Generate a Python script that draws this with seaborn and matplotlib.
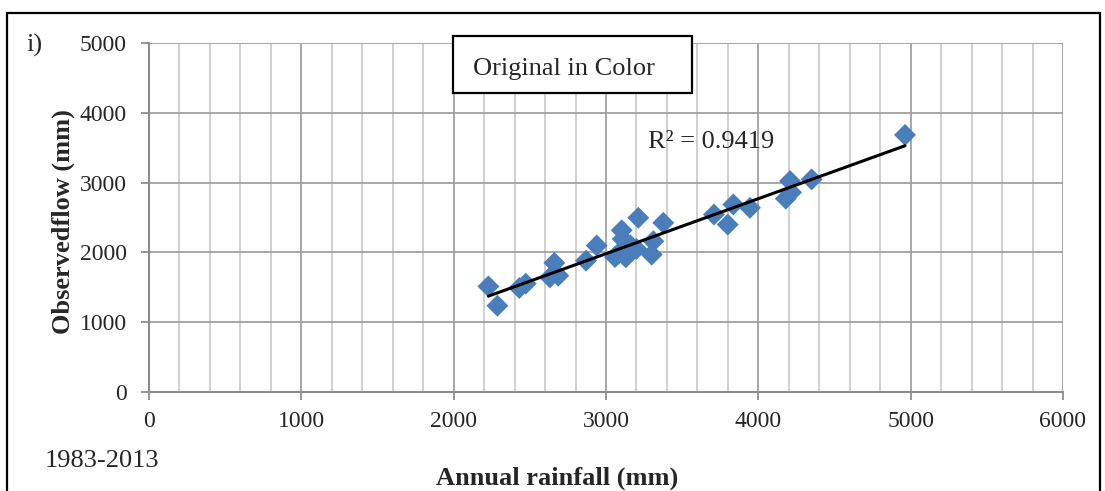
import numpy as np
import pandas as pd
import matplotlib
matplotlib.use("Agg")
import matplotlib.pyplot as plt
from matplotlib.patches import Rectangle
from matplotlib.ticker import MultipleLocator
import seaborn as sns

# Data
rainfall = [2228, 2287, 2431, 2473, 2632, 2661, 2687, 2869, 2939, 3059,
            3103, 3080, 3130, 3110, 3160, 3200, 3212, 3300, 3311, 3376,
            3709, 3799, 3836, 3945, 4180, 4215, 4208, 4350, 4963]
flow = [1513, 1236, 1490, 1552, 1642, 1849, 1667, 1882, 2098, 1934,
        2317, 1980, 1930, 2190, 2100, 2050, 2496, 1968, 2160, 2424,
        2543, 2399, 2687, 2639, 2770, 2860, 3022, 3046, 3683]
r2_label = "R² = 0.9419"
x_ticks = [0, 1000, 2000, 3000, 4000, 5000, 6000]
y_ticks = [0, 1000, 2000, 3000, 4000, 5000]

df = pd.DataFrame({"rain": rainfall, "flow": flow})

sns.set_style("white")
plt.rcParams['font.family'] = ['Liberation Serif', 'DejaVu Serif']

W, H = 1105, 491
fig = plt.figure(figsize=(W / 100, H / 100), dpi=100)
ax = fig.add_axes([149 / W, 1 - 392 / H, (1063 - 149) / W, (392 - 43) / H])

ax.set_xlim(0, 6000)
ax.set_ylim(0, 5000)
ax.set_xticks(x_ticks)
ax.set_yticks(y_ticks)
ax.xaxis.set_minor_locator(MultipleLocator(200))
ax.grid(which="minor", axis="x", color="#c4c4c4", linewidth=1.1)
ax.grid(which="major", axis="both", color="#a0a0a0", linewidth=1.3)
ax.set_axisbelow(True)

sns.regplot(data=df, x="rain", y="flow", scatter=False, ci=None, ax=ax,
            line_kws=dict(color="black", linewidth=2.2, zorder=4))
sns.scatterplot(data=df, x="rain", y="flow", marker="D", s=125,
                color="#4a7ebb", edgecolor="none", ax=ax, zorder=3)

for s in ["top", "right"]:
    ax.spines[s].set_visible(False)
for s in ["left", "bottom"]:
    ax.spines[s].set_color("#8c8c8c")
    ax.spines[s].set_linewidth(1.5)
ax.tick_params(axis="both", which="major", length=6, width=1.3, color="#8c8c8c",
               labelsize=17, direction="out", left=True, bottom=True)
ax.tick_params(axis="x", pad=8)
ax.tick_params(axis="y", pad=10)
ax.tick_params(which="minor", length=0)
ax.set_xlabel("")
ax.set_ylabel("")

# Labels
fig.text(557 / W, 1 - 485 / H, "Annual rainfall (mm)", ha="center", va="baseline",
         fontsize=19, fontweight="bold")
fig.text(63 / W, 1 - 222 / H, "Observedflow (mm)", ha="center", va="center",
         rotation=90, fontsize=19, fontweight="bold")
fig.text(45 / W, 1 - 467 / H, "1983-2013", ha="left", va="baseline", fontsize=19)
fig.text(26 / W, 1 - 52 / H, "i)", ha="left", va="baseline", fontsize=19)
fig.text(648 / W, 1 - 148 / H, r2_label, ha="left", va="baseline", fontsize=19)

# Box with "Original in Color"
fig.patches.append(Rectangle((453 / W, 1 - 93 / H), (692 - 453) / W, (93 - 36) / H,
                             transform=fig.transFigure, facecolor="white",
                             edgecolor="black", linewidth=1.6, zorder=5))
fig.text(473 / W, 1 - 75 / H, "Original in Color", ha="left", va="baseline",
         fontsize=19, zorder=6)

# Figure frame
fig.patches.append(Rectangle((7 / W, -0.05), (1100 - 7) / W, 1.05 - 13 / H,
                             transform=fig.transFigure, facecolor="none",
                             edgecolor="black", linewidth=1.6, zorder=10))

fig.savefig("out.png", dpi=100)
